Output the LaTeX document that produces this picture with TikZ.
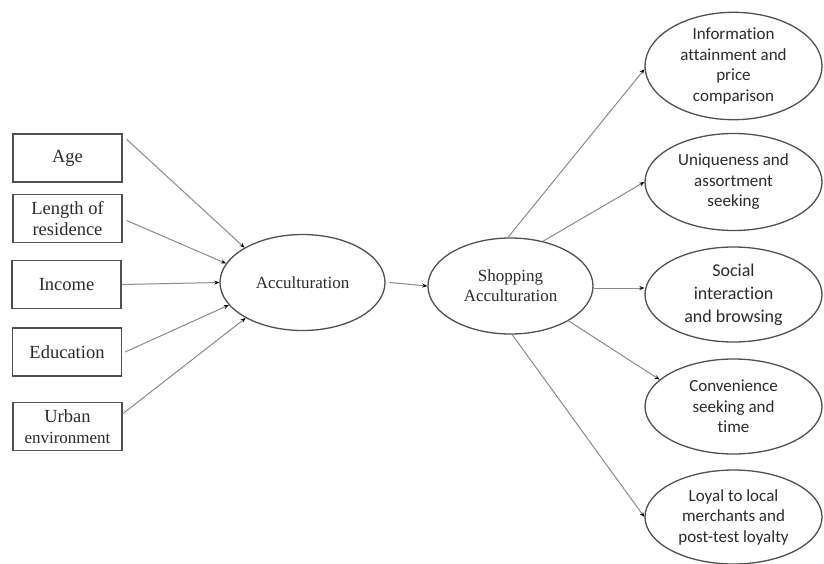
\documentclass[tikz,border=0pt]{standalone}
\usepackage{fontspec}
\setmainfont{Liberation Serif}
\newfontfamily\calibrifont[Ligatures=NoCommon]{Carlito}
\usetikzlibrary{shapes.geometric,arrows.meta,calc}
\definecolor{ink}{HTML}{2B2B2B}
\definecolor{edge}{HTML}{505050}
\definecolor{wire}{HTML}{8A8A8A}
\begin{document}
\begin{tikzpicture}[x=1pt,y=-1pt,
  factor/.style={draw=edge,line width=1.3pt,rectangle,minimum width=109pt,minimum height=48pt,
    inner sep=0pt,align=center,text=ink,font=\fontsize{18.5}{21.5}\selectfont},
  central/.style={draw=edge,line width=1.3pt,ellipse,minimum width=165pt,minimum height=96pt,
    inner sep=0pt,align=center,text=ink,font=\fontsize{17}{20}\selectfont},
  outcome/.style={draw=edge,line width=1.3pt,ellipse,minimum width=177pt,minimum height=96pt,
    inner sep=0pt,align=center,text=ink,font=\calibrifont\fontsize{17}{20.5}\selectfont},
  link/.style={draw=wire,line width=1pt,-{Stealth[length=5pt,width=4pt,black]}}]
\useasboundingbox[fill=white] (0,0) rectangle (824,563);

\node[factor] (age) at (67.5,158) {Age};
\node[factor] (lor) at (67.5,218.5) {Length of\\residence};
\node[factor] (inc) at (66.5,284.5) {Income};
\node[factor] (edu) at (67,352) {Education};
\node[factor] (urb) at (67.5,426.5) {Urban\\{\fontsize{17}{19}\selectfont environment}};

\node[central] (acc) at (302.5,282.5) {Acculturation};
\node[central] (shop) at (510.5,286) {Shopping\\Acculturation};

\node[outcome,minimum height=107pt] (info) at (733.5,66) {Information\\attainment and\\price\\comparison};
\node[outcome,minimum height=97pt] (uniq) at (733.5,182) {Uniqueness and\\assortment\\seeking};
\node[outcome,minimum height=95pt,font=\calibrifont\fontsize{18}{23}\selectfont] (soc) at (733.5,294.5) {Social\\interaction\\and browsing};
\node[outcome,minimum height=95pt] (conv) at (733.5,406.5) {Convenience\\seeking and\\time};
\node[outcome,minimum height=94pt] (loyal) at (733.5,517) {Loyal to local\\merchants and\\post-test loyalty};

\coordinate (se) at ($(shop.east)+(0,2)$);

\draw[link] ($(age.north east)+(4,6)$) -- (acc.149);
\draw[link] ($(lor.east)+(4,2)$) -- (acc.166);
\draw[link] (inc.east) -- (acc.west);
\draw[link] ($(edu.east)+(3,0)$) -- (acc.197);
\draw[link] ($(urb.north east)+(0,12)$) -- (acc.212);

\draw[link] ($(acc.east)+(4,0)$) -- (shop.west);

\draw[link] (shop.93) -- (info.182);
\draw[link] (shop.54) -- (uniq.west);
\draw[link] (se) -- (se -| soc.west);
\draw[link] (shop.-31) -- (conv.160);
\draw[link] (shop.-88) -- (loyal.west);
\end{tikzpicture}
\end{document}
